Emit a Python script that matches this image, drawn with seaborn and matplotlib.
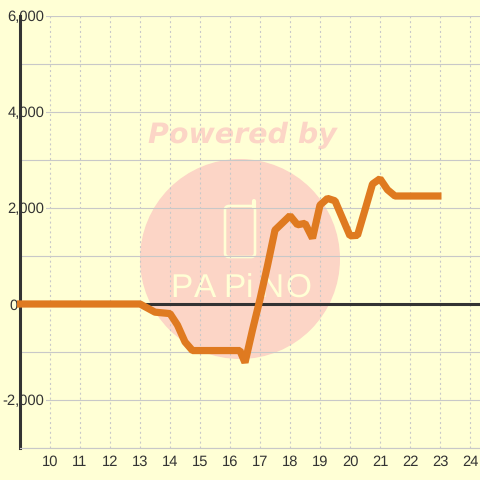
import numpy as np
import pandas as pd
import matplotlib
matplotlib.use('Agg')
import matplotlib.pyplot as plt
import seaborn as sns
from matplotlib.patches import Circle, FancyBboxPatch
from matplotlib.transforms import ScaledTranslation

# values
hours = [8.9, 10, 11, 12, 13, 13.5, 14, 14.25, 14.5, 14.75, 15, 15.5, 16, 16.33, 16.5, 16.75,
         17, 17.25, 17.5, 18, 18.25, 18.5, 18.75, 19, 19.25, 19.5, 20, 20.25, 20.5, 20.75,
         21, 21.25, 21.5, 22, 22.5, 23.05]
profit = [0, 0, 0, 0, 0, -170, -200, -440, -790, -970, -970, -970, -970, -970, -1220, -540,
          100, 800, 1540, 1840, 1650, 1680, 1370, 2060, 2200, 2150, 1420, 1430, 1960, 2500,
          2610, 2380, 2250, 2250, 2250, 2250]
x_ticks = list(range(10, 25))
y_major = [-2000, 0, 2000, 4000, 6000]
y_minor = [-3000, -1000, 1000, 3000, 5000]

bg = '#FFFFD5'
pink = '#FCD5C6'
grid_col = '#C8C8C8'
dark = '#333333'
orange = '#DF7A20'

df = pd.DataFrame({'hour': hours, 'profit': profit})

sns.set_style('white')
plt.rcParams['font.family'] = ['Liberation Sans', 'DejaVu Sans']
plt.rcParams['text.hinting'] = 'none'

fig = plt.figure(figsize=(4.8, 4.8), dpi=100, facecolor=bg)

# watermark sits behind the chart, in pixel coordinates
wm = fig.add_axes([0, 0, 1, 1], zorder=-1)
wm.set_xlim(0, 480)
wm.set_ylim(480, 0)
wm.axis('off')
wm.add_patch(Circle((240, 259), 100, color=pink, lw=0))
wm.text(242, 135, 'Powered by', color=pink, fontsize=20.5, fontweight='bold', fontstyle='italic',
        ha='center', va='center', family='DejaVu Sans')
wm.add_patch(FancyBboxPatch((225, 206), 30, 51, boxstyle='round,pad=0,rounding_size=4',
                            fc='none', ec=bg, lw=1.9))
wm.plot([253.5, 253.5], [201, 207], color=bg, lw=3, solid_capstyle='round')
for lx, letter in zip([181, 205, 234, 249, 271, 298], 'PAPiNO'):
    wm.text(lx, 288, letter, color=bg, fontsize=24, ha='center', va='center',
            family='Liberation Sans')

ax = fig.add_axes([20 / 480, 32 / 480, 460 / 480, 432 / 480])
ax.patch.set_alpha(0)

ax.axhline(0, color=dark, lw=2.2, zorder=2.8)
sns.lineplot(data=df, x='hour', y='profit', ax=ax, color=orange, lw=5.2, zorder=3, clip_on=False,
             solid_joinstyle='bevel', solid_capstyle='butt', errorbar=None)

ax.set_xlim(9, 24 + 1 / 3)
ax.set_ylim(-3000, 6000)
ax.set_xticks(x_ticks)
ax.set_yticks(y_major)
ax.set_yticks(y_minor, minor=True)
ax.set_yticklabels([f'{v:,}' for v in y_major])
ax.set_xlabel('')
ax.set_ylabel('')

ax.grid(True, axis='y', which='both', color=grid_col, lw=0.8)
ax.grid(True, axis='x', color=grid_col, lw=0.8, ls=(0, (1.8, 2.6)))
ax.tick_params(axis='both', which='both', length=0, labelcolor=dark, labelsize=10.6)
ax.tick_params(axis='x', pad=5)
ax.tick_params(axis='y', pad=-17.5)
for lab in ax.get_yticklabels():
    lab.set_ha('right')
    lab.set_clip_on(False)
    if lab.get_text() == '0':
        # the zero label sits left of the axis line
        lab.set_transform(lab.get_transform() + ScaledTranslation(-27 / 100, 0, fig.dpi_scale_trans))
    else:
        lab.set_bbox(dict(fc=bg, ec='none', pad=1.5))

for side in ['top', 'right']:
    ax.spines[side].set_visible(False)
ax.spines['left'].set_color(dark)
ax.spines['left'].set_linewidth(2.2)
ax.spines['bottom'].set_color(grid_col)
ax.spines['bottom'].set_linewidth(0.8)

fig.savefig('out.png', dpi=100, facecolor=bg)
